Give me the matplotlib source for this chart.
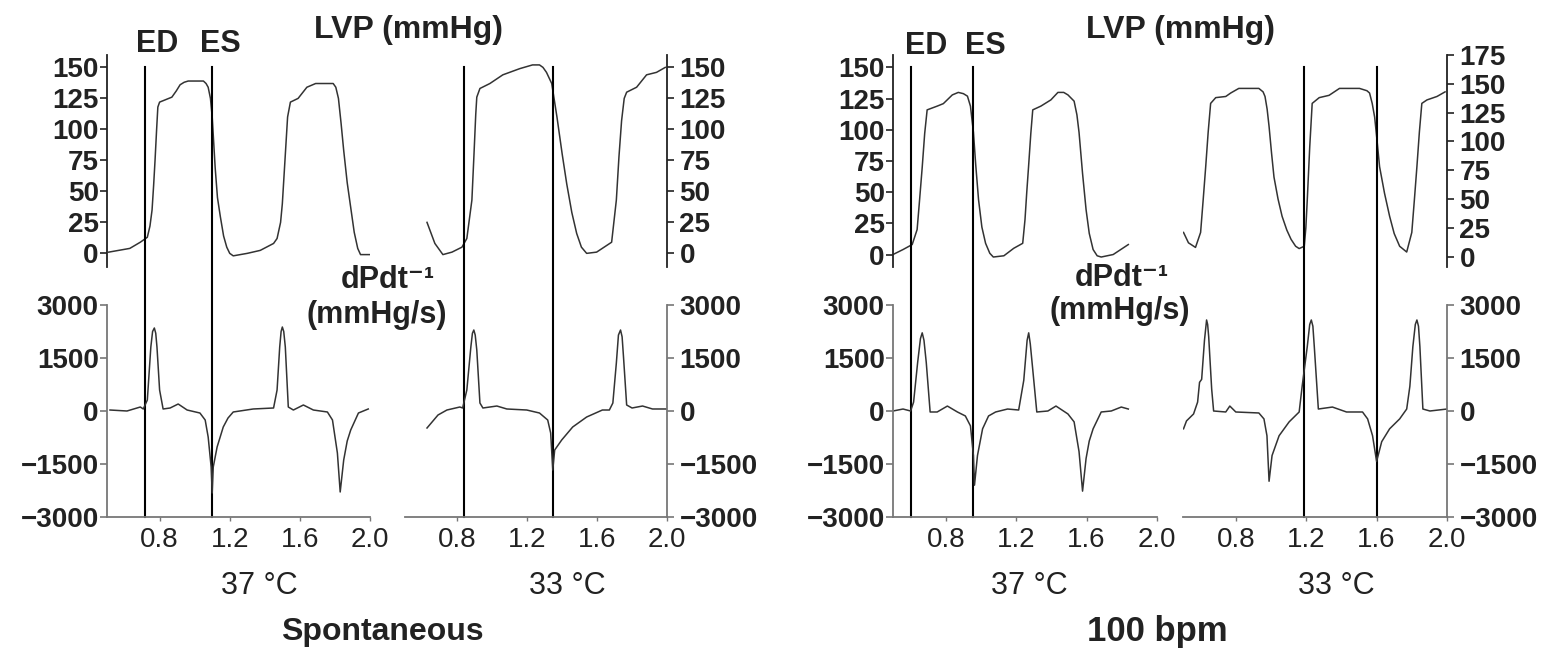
import numpy as np
import matplotlib as mpl
mpl.use('Agg')
mpl.rcParams['font.family'] = ['Liberation Sans', 'DejaVu Sans']
import matplotlib.pyplot as plt

W, H = 1557, 653

# ---- data (time in s, LVP in mmHg, dP/dt in mmHg/s) ----
spont37_lvp_t = [0.51, 0.63, 0.69, 0.73, 0.745, 0.757, 0.766, 0.774, 0.783, 0.79, 0.80, 0.87, 0.895, 0.917, 0.94,
                 0.963, 1.05, 1.065, 1.077, 1.09, 1.10, 1.117, 1.13, 1.146, 1.165, 1.183, 1.20, 1.22, 1.30, 1.374,
                 1.45, 1.47, 1.49, 1.50, 1.515, 1.53, 1.546, 1.59, 1.64, 1.69, 1.79, 1.805, 1.82, 1.835, 1.85,
                 1.87, 1.89, 1.91, 1.93, 1.946, 2.0]
spont37_lvp = [1, 4, 9, 13, 22, 35, 55, 75, 100, 118, 122, 126, 131, 136, 138,
               139, 139, 137, 134, 125, 110, 69, 45, 30, 14, 5, 0, -2, 0, 2.4,
               8, 12, 25, 40, 75, 110, 122, 125, 134, 137, 137, 134, 125, 105, 83,
               57, 37, 17, 4, -1, -1]
spont37_dp_t = [0.517, 0.614, 0.69, 0.707, 0.73, 0.75, 0.76, 0.77, 0.778, 0.785, 0.80, 0.82, 0.86, 0.906, 0.957,
                1.03, 1.06, 1.077, 1.094, 1.10, 1.106, 1.128, 1.163, 1.19, 1.22, 1.334, 1.45, 1.47, 1.485,
                1.493, 1.50, 1.508, 1.517, 1.534, 1.563, 1.62, 1.677, 1.757, 1.786, 1.814, 1.83, 1.85, 1.87,
                1.89, 1.934, 1.99]
spont37_dp = [28, 0, 113, 57, 311, 1811, 2250, 2349, 2200, 1811, 594, 57, 85, 198, 28,
              -57, -255, -736, -1585, -2320, -1585, -1019, -453, -200, -28, 57, 85, 594, 1811,
              2250, 2377, 2250, 1811, 113, 28, 170, 28, -28, -255, -1189, -2292, -1387, -850,
              -538, -57, 57]

spont33_lvp_t = [0.626, 0.671, 0.717, 0.769, 0.826, 0.854, 0.883, 0.895, 0.905, 0.911, 0.929, 0.986, 1.06, 1.157,
                 1.23, 1.27, 1.29, 1.31, 1.34, 1.37, 1.40, 1.426, 1.455, 1.483, 1.51, 1.54, 1.597, 1.683, 1.71,
                 1.725, 1.74, 1.755, 1.769, 1.826, 1.883, 1.94, 1.99]
spont33_lvp = [25, 8, -1, 1, 5, 12, 43, 80, 112, 126, 133, 137, 144, 149,
               152, 152, 150, 146, 137, 110, 80, 56, 33, 16, 5, 0, 1, 9, 43,
               78, 107, 125, 130, 134, 144, 146, 150]
spont33_dp_t = [0.626, 0.689, 0.74, 0.814, 0.83, 0.854, 0.877, 0.886, 0.894, 0.902, 0.911, 0.929, 0.946, 1.026,
                1.083, 1.197, 1.27, 1.317, 1.334, 1.346, 1.357, 1.397, 1.46, 1.54, 1.63, 1.67, 1.69, 1.71,
                1.722, 1.734, 1.743, 1.751, 1.769, 1.80, 1.86, 1.917, 2.0]
spont33_dp = [-481, -113, 28, 113, 85, 594, 1811, 2200, 2292, 2150, 1726, 226, 85, 141,
              57, 28, -57, -255, -623, -1670, -1104, -821, -453, -170, 28, 28, 226, 1358,
              2150, 2292, 2100, 1528, 170, 85, 141, 57, 57]

pace37_lvp_t = [0.5, 0.557, 0.609, 0.637, 0.65, 0.666, 0.68, 0.694, 0.751, 0.786, 0.837, 0.871, 0.9, 0.923, 0.94,
                0.957, 0.97, 0.986, 1.005, 1.026, 1.05, 1.07, 1.13, 1.186, 1.237, 1.25, 1.26, 1.27, 1.283,
                1.294, 1.34, 1.397, 1.437, 1.47, 1.494, 1.529, 1.545, 1.557, 1.577, 1.597, 1.615, 1.637, 1.66,
                1.683, 1.751, 1.837]
pace37_lvp = [0, 4, 8, 20, 42, 70, 97, 116, 119, 121, 128, 130, 129, 127, 119,
              98, 72, 44, 22, 9, 1, -2, -1, 5, 9, 28, 50, 70, 97,
              116, 119, 124, 130, 130, 128, 123, 112, 98, 65, 36, 17, 4, -1,
              -2, 0, 8]
pace37_dp_t = [0.5, 0.557, 0.6, 0.617, 0.64, 0.656, 0.666, 0.676, 0.689, 0.711, 0.751, 0.809, 0.866, 0.911, 0.94,
               0.957, 0.963, 0.98, 1.009, 1.043, 1.083, 1.151, 1.214, 1.243, 1.262, 1.271, 1.28, 1.294, 1.317,
               1.38, 1.426, 1.494, 1.529, 1.557, 1.577, 1.597, 1.615, 1.637, 1.683, 1.74, 1.797, 1.837]
pace37_dp = [0, 56, 0, 252, 1372, 2050, 2212, 2000, 1372, -28, -28, 140, -28, -140, -420,
             -1260, -2100, -1260, -504, -140, -28, 56, 28, 868, 2000, 2212, 1900, 1176, -28,
             0, 140, -84, -308, -1148, -2268, -1344, -850, -504, -28, 0, 112, 56]

pace33_lvp_t = [0.503, 0.531, 0.571, 0.6, 0.615, 0.629, 0.643, 0.657, 0.686, 0.743, 0.771, 0.817, 0.931, 0.955,
                0.966, 0.978, 0.989, 1.003, 1.017, 1.04, 1.063, 1.09, 1.114, 1.14, 1.16, 1.189, 1.198, 1.206,
                1.22, 1.234, 1.274, 1.33, 1.389, 1.503, 1.545, 1.56, 1.575, 1.589, 1.603, 1.617, 1.645, 1.674,
                1.70, 1.731, 1.771, 1.80, 1.815, 1.829, 1.843, 1.857, 1.886, 1.943, 1.989]
pace33_lvp = [21, 12, 8, 21, 50, 78, 108, 133, 138, 139, 142, 146, 146, 143,
              139, 128, 113, 90, 69, 50, 35, 23, 15, 9, 7, 9, 25, 49,
              95, 133, 138, 140, 146, 146, 144, 142, 133, 121, 100, 78, 55, 35,
              20, 9, 4, 21, 50, 78, 108, 133, 136, 139, 143]
pace33_dp_t = [0.503, 0.52, 0.56, 0.583, 0.594, 0.606, 0.622, 0.634, 0.64, 0.646, 0.663, 0.674, 0.743, 0.766,
               0.8, 0.931, 0.96, 0.977, 0.989, 1.006, 1.046, 1.103, 1.16, 1.177, 1.206, 1.22, 1.229, 1.238,
               1.246, 1.269, 1.349, 1.429, 1.52, 1.549, 1.577, 1.60, 1.629, 1.674, 1.731, 1.771, 1.789,
               1.806, 1.82, 1.829, 1.838, 1.846, 1.863, 1.903, 2.0]
pace33_dp = [-504, -280, -84, 252, 812, 896, 2000, 2576, 2450, 2100, 616, 0, -28, 140,
             -28, -56, -224, -700, -1988, -1260, -700, -308, -28, 700, 1820, 2450, 2576, 2400,
             1820, 56, 112, -28, -28, -224, -700, -1428, -868, -504, -224, 56, 700,
             1820, 2450, 2576, 2400, 1820, 56, 0, 56]

# end-diastole / end-systole markers (s)
ed_es = {'spont37': (0.714, 1.097), 'spont33': (0.84, 1.35),
         'pace37': (0.60, 0.957), 'pace33': (1.189, 1.60)}

lvp_ticks_150 = [0, 25, 50, 75, 100, 125, 150]
lvp_ticks_175 = [0, 25, 50, 75, 100, 125, 150, 175]
dp_ticks = [-3000, -1500, 0, 1500, 3000]
x_ticks = [0.8, 1.2, 1.6, 2.0]

TXT = '#222222'
FS_YTICK = 20
FS_XTICK = 20


def box(x0, x1, y0, y1):
    return [x0 / W, 1 - y1 / H, (x1 - x0) / W, (y1 - y0) / H]


def ftext(x, y, s, size, weight='normal'):
    fig.text(x / W, 1 - y / H, s, ha='center', va='center', fontsize=size,
             fontweight=weight, color=TXT)


fig = plt.figure(figsize=(W / 100, H / 100), dpi=100)
fig.patch.set_facecolor('white')

TOP_Y = (55, 267)
BOT_Y = (305, 517)

panels = [
    ('spont37', 107, 370, 'left', spont37_lvp_t, spont37_lvp, spont37_dp_t, spont37_dp, (-11, 160), lvp_ticks_150),
    ('spont33', 405, 667, 'right', spont33_lvp_t, spont33_lvp, spont33_dp_t, spont33_dp, (-11, 160), lvp_ticks_150),
    ('pace37', 893, 1157, 'left', pace37_lvp_t, pace37_lvp, pace37_dp_t, pace37_dp, (-10, 160), lvp_ticks_150),
    ('pace33', 1183, 1447, 'right', pace33_lvp_t, pace33_lvp, pace33_dp_t, pace33_dp, (-9, 175), lvp_ticks_175),
]

for key, x0, x1, side, lt, lv, dt, dv, ylim, yt in panels:
    axt = fig.add_axes(box(x0, x1, *TOP_Y))
    axb = fig.add_axes(box(x0, x1, *BOT_Y))
    for ax in (axt, axb):
        ax.set_xlim(0.5, 2.0)
        ax.patch.set_alpha(0)
        for s in ('top', 'left', 'right', 'bottom'):
            ax.spines[s].set_visible(False)
        ax.spines[side].set_visible(True)
        ax.spines[side].set_linewidth(1.3)
        if side == 'right':
            ax.yaxis.tick_right()
        ax.tick_params(axis='y', direction='out', length=5, width=1.2, labelsize=FS_YTICK,
                       labelcolor=TXT, pad=1 if side == 'left' else 4)
    axt.spines[side].set_color('#222222')
    axb.spines[side].set_color('#777777')

    axt.plot(lt, lv, color='#333333', lw=1.1, solid_joinstyle='round')
    axt.set_ylim(*ylim)
    axt.set_yticks(yt)
    axt.set_xticks([])
    axt.tick_params(axis='y', colors='#222222', labelcolor=TXT)

    axb.plot(dt, dv, color='#333333', lw=1.1, solid_joinstyle='round')
    axb.set_ylim(-3000, 3000)
    axb.set_yticks(dp_ticks)
    axb.tick_params(axis='y', colors='#777777', labelcolor=TXT)
    axb.spines['bottom'].set_visible(True)
    axb.spines['bottom'].set_color('#777777')
    axb.spines['bottom'].set_linewidth(1.3)
    axb.set_xticks(x_ticks)
    axb.set_xticklabels(['%.1f' % v for v in x_ticks])
    axb.tick_params(axis='x', direction='out', length=3, width=1.0, colors='#777777',
                    labelsize=FS_XTICK, labelcolor=TXT, pad=4)
    for lab in axt.get_yticklabels() + axb.get_yticklabels():
        lab.set_fontweight('bold')

    # ED / ES lines run through both panels down to the time axis
    h_top = TOP_Y[1] - TOP_Y[0]
    ymin = (TOP_Y[1] - BOT_Y[1]) / h_top
    ymax = (TOP_Y[1] - 67) / h_top
    for tv in ed_es[key]:
        axt.axvline(tv, ymin=ymin, ymax=ymax, color='black', lw=1.5, clip_on=False)

# labels
ftext(408, 30, 'LVP (mmHg)', 23, 'bold')
ftext(1181, 30, 'LVP (mmHg)', 23, 'bold')
ftext(157, 44, 'ED', 22, 'bold')
ftext(220, 44, 'ES', 22, 'bold')
ftext(926, 46, 'ED', 22, 'bold')
ftext(985, 46, 'ES', 22, 'bold')
ftext(388, 280, 'dPdt\u207b\u00b9', 22, 'bold')
ftext(377, 315, '(mmHg/s)', 22, 'bold')
ftext(1122, 278, 'dPdt\u207b\u00b9', 22, 'bold')
ftext(1120, 311, '(mmHg/s)', 22, 'bold')
ftext(259, 586, '37 \u00b0C', 22)
ftext(567, 586, '33 \u00b0C', 22)
ftext(1029, 586, '37 \u00b0C', 22)
ftext(1336, 586, '33 \u00b0C', 22)
ftext(382, 632, 'Spontaneous', 23, 'bold')
ftext(1157, 632, '100 bpm', 25, 'bold')

fig.savefig('out.png', dpi=100)
